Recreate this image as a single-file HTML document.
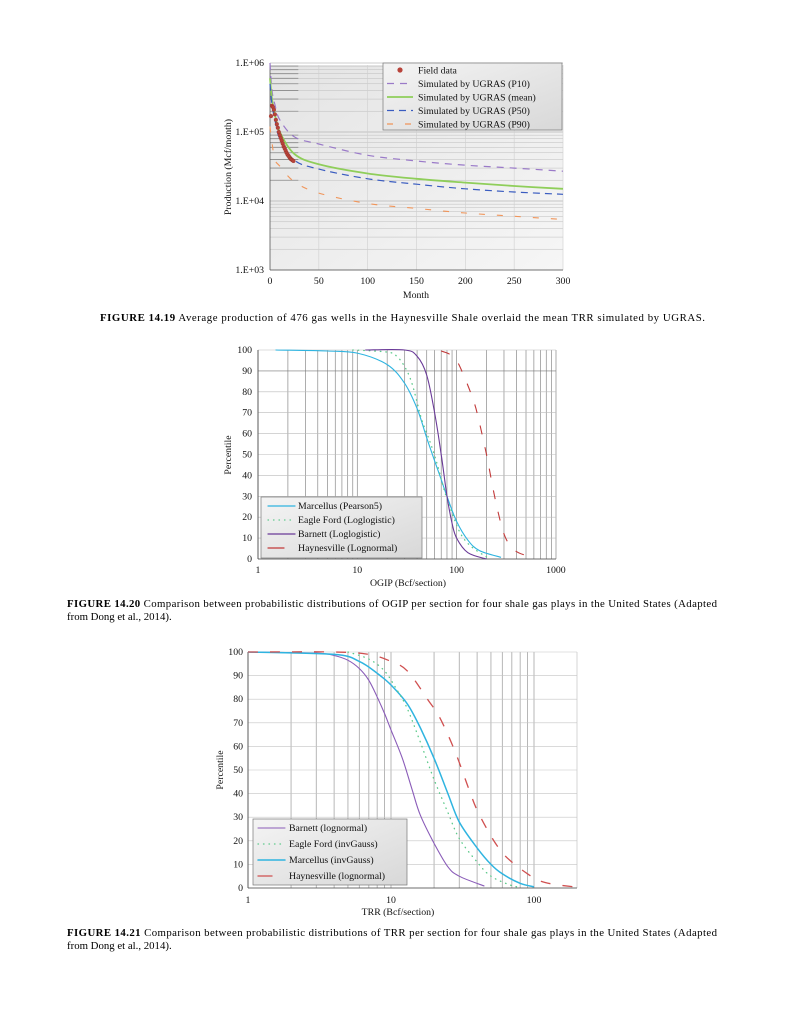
<!DOCTYPE html>
<html><head><meta charset="utf-8"><style>
body{margin:0;background:#fff;width:791px;height:1024px;overflow:hidden}
svg{font-family:"Liberation Serif",serif}
</style></head><body>
<svg id="s" width="791" height="1024" viewBox="0 0 791 1024">
<defs>
<linearGradient id="bg1" x1="0" y1="0" x2="1" y2="1"><stop offset="0" stop-color="#e4e4e4"/><stop offset="1" stop-color="#f6f6f6"/></linearGradient>
<linearGradient id="lg" x1="0" y1="0" x2="1" y2="1"><stop offset="0" stop-color="#f4f4f4"/><stop offset="1" stop-color="#d8d8d8"/></linearGradient>
</defs>
<text x="100" y="321" font-size="10.8" textLength="605" lengthAdjust="spacing"><tspan font-weight="bold">FIGURE 14.19</tspan>   Average production of 476 gas wells in the Haynesville Shale overlaid the mean TRR simulated by UGRAS.</text>
<text x="67" y="607" font-size="10.8" textLength="650" lengthAdjust="spacing"><tspan font-weight="bold">FIGURE 14.20</tspan>   Comparison between probabilistic distributions of OGIP per section for four shale gas plays in the United States (Adapted</text>
<text x="67" y="620" font-size="10.8">from Dong et al., 2014).</text>
<text x="67" y="936" font-size="10.8" textLength="650" lengthAdjust="spacing"><tspan font-weight="bold">FIGURE 14.21</tspan>   Comparison between probabilistic distributions of TRR per section for four shale gas plays in the United States (Adapted</text>
<text x="67" y="949" font-size="10.8">from Dong et al., 2014).</text>
</svg>
<script>
// ---- Chart 1 data ----
const c1Months=[0,2,5,10,25,50,100,150,200,250,300];
const c1P10=[1000000,400000,250000,150000,85000,67000,46000,38000,33000,30000,27000];
const c1Mean=[600000,300000,180000,100000,48000,34000,25000,21000,18500,16500,15000];
const c1P50=[500000,250000,150000,80000,39000,29000,21000,17500,15000,13500,12500];
const c1P90=[120000,70000,40000,32000,19000,13000,9200,7800,6700,6000,5400];
const c1FieldMonths=[1,2,3,4,5,6,7,8,9,10,11,12,13,14,15,16,17,18,19,20,21,22,23,24];
const c1Field=[170000,240000,230000,210000,180000,150000,130000,115000,100000,90000,82000,75000,68000,62000,58000,54000,50000,47000,45000,43000,41000,40000,39000,38000];
const c1YTicks=["1.E+03","1.E+04","1.E+05","1.E+06"];
const c1XTicks=[0,50,100,150,200,250,300];
// ---- Chart 2 data ----
const c2Ticks=[1,10,100,1000];
const c2MarX=[1.5,5,10,20,30,40,50,60,70,80,100,130,170,280];
const c2MarY=[100,99.5,98.5,93,84,72,58,47,38,30,18,9,4,0.8];
const c2EagX=[9,20,25,30,35,40,45,55,65,75,90,110,140,200];
const c2EagY=[100,99,97,92,85,75,66,55,44,33,22,12,6,1];
const c2BarX=[12,30,40,50,60,70,80,90,100,130,200];
const c2BarY=[100,100,97,88,70,50,30,17,10,3,0];
const c2HayX=[70,85,100,120,150,170,200,230,260,300,350,420,520,620];
const c2HayY=[99.5,98,95,87,75,65,50,35,23,12,6,3,1.5,0.3];
// ---- Chart 3 data ----
const c3Ticks=[1,10,100];
const c3BarX=[1,3,4,5,6,7,8,9,10,12,14,16,20,25,30,45];
const c3BarY=[100,99.5,98.5,96.5,93,88,81,74,67,55,42,31,19,9,5,0.8];
const c3MarX=[1,4,6,8,10,13,16,20,25,30,40,50,60,80,100];
const c3MarY=[100,99,96,91,86,78,68,55,40,28,17,10,6,2,0.5];
const c3EagX=[5,7,9,11,13,16,20,25,30,40,50,70,80];
const c3EagY=[100,97,92,84,76,62,46,32,21,11,5,1,0.5];
const c3HayX=[1,4,7,10,13,18,22,28,35,40,50,60,70,90,110,140,190];
const c3HayY=[100,100,99,96,92,80,72,58,42,33,22,15,11,6,3,1.5,0.5];

const S=document.getElementById('s');const NS='http://www.w3.org/2000/svg';
function mk(t,a,p){const e=document.createElementNS(NS,t);for(const k in a)e.setAttribute(k,a[k]);(p||S).appendChild(e);return e;}
function txt(x,y,s,sz,anchor,extra){const e=mk('text',Object.assign({x:x,y:y,'font-size':sz,'text-anchor':anchor||'start',fill:'#111'},extra||{}));e.textContent=s;return e;}
function line(x1,y1,x2,y2,c,w){return mk('line',{x1:x1,y1:y1,x2:x2,y2:y2,stroke:c,'stroke-width':w||0.6});}
function path(xs,ys,fx,fy,c,w,dash){
  const P=xs.map((x,i)=>[fx(x),fy(ys[i])]);
  let d='M'+P[0][0].toFixed(1)+','+P[0][1].toFixed(1);
  for(let i=0;i<P.length-1;i++){
    const p0=P[i-1]||P[i],p1=P[i],p2=P[i+1],p3=P[i+2]||P[i+1];
    const c1=[p1[0]+(p2[0]-p0[0])/6,p1[1]+(p2[1]-p0[1])/6];
    const c2=[p2[0]-(p3[0]-p1[0])/6,p2[1]-(p3[1]-p1[1])/6];
    d+=`C${c1[0].toFixed(1)},${c1[1].toFixed(1)} ${c2[0].toFixed(1)},${c2[1].toFixed(1)} ${p2[0].toFixed(1)},${p2[1].toFixed(1)}`;
  }
  const a={d:d,fill:'none',stroke:c,'stroke-width':w};if(dash)a['stroke-dasharray']=dash;if(dash&&dash.startsWith('0.'))a['stroke-linecap']='round';return mk('path',a);}

// ===== Chart 1 =====
const x1=m=>270+m*(563-270)/300, y1=v=>270-(Math.log10(v)-3)*69;
const p1=mk('rect',{x:270,y:65,width:293,height:205,fill:'url(#bg1)'});


for(let d=3;d<6;d++)for(let k=2;k<10;k++){const y=y1(k*Math.pow(10,d));line(270,y,563,y,'#bdbdbd',0.5);}
for(let d=3;d<=6;d++){const y=y1(Math.pow(10,d));line(270,y,563,y,'#999',0.6);}
for(let m=50;m<=300;m+=50)line(x1(m),65,x1(m),270,'#cfcfcf',0.6);
for(let k=2;k<10;k++){line(270,y1(k*1e4),x1(29),y1(k*1e4),'#888',0.8);line(270,y1(k*1e5),x1(29),y1(k*1e5),'#888',0.8);}
line(270,65,270,270,'#555',0.8);line(270,270,563,270,'#555',0.8);
c1YTicks.forEach((t,i)=>{const e=txt(264,y1(Math.pow(10,3+i))+3,t,9.8,'end');});
c1XTicks.forEach(t=>{const e=txt(x1(t),284,String(t),9.8,'middle');});
let e=txt(416,298,'Month',9.8,'middle');
e=txt(0,0,'Production (Mcf/month)',9.8,'middle',{transform:'translate(231,167) rotate(-90)'});
e=path(c1Months,c1P10,x1,y1,'#9a7ac8',1.2,'7,6');
e=path(c1Months,c1Mean,x1,y1,'#8fce5a',1.8);
e=path(c1Months,c1P50,x1,y1,'#3a5cc0',1.2,'7,5');
e=path(c1Months,c1P90,x1,y1,'#f0955a',1.1,'6,12');
c1FieldMonths.forEach((m,i)=>{const c=mk('circle',{cx:x1(m),cy:y1(c1Field[i]),r:1.9,fill:'#b8433a',stroke:'#8a2a22','stroke-width':0.3});});
const L1=mk('rect',{x:383,y:63,width:179,height:67,fill:'url(#lg)',stroke:'#777','stroke-width':0.7});


const l1=[['Field data'],['Simulated by UGRAS (P10)','#9a7ac8','7,6'],['Simulated by UGRAS (mean)','#8fce5a',''],['Simulated by UGRAS (P50)','#3a5cc0','7,5'],['Simulated by UGRAS (P90)','#f0955a','6,12']];
l1.forEach((r,i)=>{const y=71+i*13.5;if(i==0)mk('circle',{cx:400,cy:y-1,r:2.6,fill:'#b8433a'});else mk('path',{d:`M387,${y-1}H413`,stroke:r[1],'stroke-width':i==2?1.8:1.2,'stroke-dasharray':r[2]});const t=txt(418,y+2.5,r[0],9.8);});

// ===== Chart 2 =====
const x2=v=>258+Math.log10(v)*99.3, y2=p=>559-p*2.09;
for(let d=0;d<3;d++)for(let k=1;k<10;k++){const x=x2(k*Math.pow(10,d));line(x,350,x,559,'#8a8a8a',0.7);}
line(556,350,556,559,'#888',0.7);
for(let p=0;p<=100;p+=10)line(258,y2(p),556,y2(p),p==90?'#777':'#bbb',0.6);
line(258,350,258,559,'#444',0.8);line(258,559,556,559,'#444',0.8);
for(let p=0;p<=100;p+=10){const t=txt(252,y2(p)+3,String(p),9.8,'end');}
c2Ticks.forEach(t=>{const z=txt(x2(t),573,String(t),9.8,'middle');});
e=txt(408,586,'OGIP (Bcf/section)',9.8,'middle');
e=txt(0,0,'Percentile',9.8,'middle',{transform:'translate(231,455) rotate(-90)'});
e=path(c2MarX,c2MarY,x2,y2,'#2fb4e0',1.1);
e=path(c2EagX,c2EagY,x2,y2,'#5cc98a',1.3,'0.5,5');
e=path(c2BarX,c2BarY,x2,y2,'#6a3a98',1.1);
e=path(c2HayX,c2HayY,x2,y2,'#c23a3a',1.1,'9,13');
const L2=mk('rect',{x:261,y:497,width:161,height:61,fill:'url(#lg)',stroke:'#777','stroke-width':0.7});


const l2=[['Marcellus (Pearson5)','#2fb4e0',''],['Eagle Ford (Loglogistic)','#5cc98a','0.5,5'],['Barnett (Loglogistic)','#6a3a98',''],['Haynesville (Lognormal)','#c23a3a','16,20']];
l2.forEach((r,i)=>{const y=506+i*14;mk('path',{d:`M268,${y}H295`,stroke:r[1],'stroke-width':1.2,'stroke-dasharray':r[2],'stroke-linecap':'round'});const t=txt(298,y+3,r[0],9.8);});

// ===== Chart 3 =====
const x3=v=>248+Math.log10(v)*143, y3=p=>888-p*2.36;
for(let d=0;d<3;d++)for(let k=1;k<10;k++){const v=k*Math.pow(10,d);if(v>186)continue;const x=x3(v);line(x,652,x,888,'#999',0.7);}
line(577,652,577,888,'#bbb',0.6);
for(let p=0;p<=100;p+=10)line(248,y3(p),577,y3(p),'#c4c4c4',0.6);
line(248,652,248,888,'#444',0.8);line(248,888,577,888,'#444',0.8);
for(let p=0;p<=100;p+=10){const t=txt(243,y3(p)+3,String(p),9.8,'end');}
c3Ticks.forEach(t=>{const z=txt(x3(t),903,String(t),9.8,'middle');});
e=txt(398,915,'TRR (Bcf/section)',9.8,'middle');
e=txt(0,0,'Percentile',9.8,'middle',{transform:'translate(223,770) rotate(-90)'});
e=path(c3BarX,c3BarY,x3,y3,'#8a5cb8',1.1);
e=path(c3MarX,c3MarY,x3,y3,'#2fb4e0',1.5);
e=path(c3EagX,c3EagY,x3,y3,'#5cc98a',1.3,'0.5,5');
e=path(c3HayX,c3HayY,x3,y3,'#d05050',1.3,'10,12');
const L3=mk('rect',{x:253,y:819,width:154,height:66,fill:'url(#lg)',stroke:'#777','stroke-width':0.7});


const l3=[['Barnett (lognormal)','#8a5cb8','',1.1],['Eagle Ford (invGauss)','#5cc98a','0.5,5',1.3],['Marcellus (invGauss)','#2fb4e0','',1.5],['Haynesville (lognormal)','#d05050','14,30',1.3]];
l3.forEach((r,i)=>{const y=828+i*16;mk('path',{d:`M258,${y}H285`,stroke:r[1],'stroke-width':r[3],'stroke-dasharray':r[2],'stroke-linecap':'round'});const t=txt(289,y+3,r[0],9.8);});
</script>
</body></html>
